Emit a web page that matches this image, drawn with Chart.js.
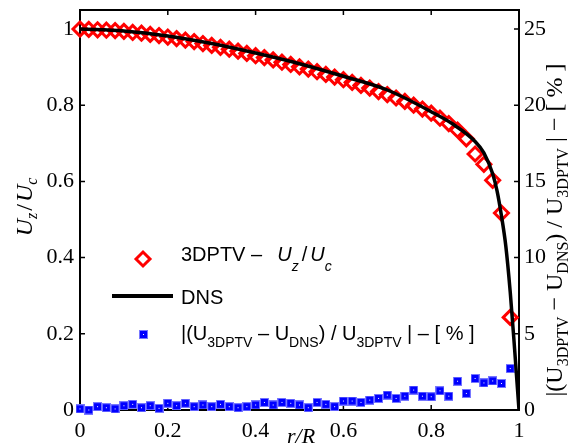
<!DOCTYPE html>
<html>
<head>
<meta charset="utf-8">
<script src="https://cdn.jsdelivr.net/npm/chart.js@4.4.0/dist/chart.umd.min.js"></script>
<style>
  body { margin: 0; background: #fff; }
  canvas { display: block; }
</style>
</head>
<body>
<canvas id="graphique" width="573" height="446"></canvas>
<script>
// radial positions of the 3DPTV bins (r/R)
const rPos = [0, 0.02, 0.04, 0.06, 0.08, 0.10, 0.12, 0.14, 0.16, 0.18,
              0.20, 0.22, 0.24, 0.26, 0.28, 0.30, 0.32, 0.34, 0.36, 0.38,
              0.40, 0.42, 0.44, 0.46, 0.48, 0.50, 0.52, 0.54, 0.56, 0.58,
              0.60, 0.62, 0.64, 0.66, 0.68, 0.70, 0.72, 0.74, 0.76, 0.78,
              0.80, 0.82, 0.84, 0.86, 0.88, 0.90, 0.92, 0.94, 0.96, 0.98];

// 3DPTV - Uz/Uc
const ptvU = [1.000, 0.999, 0.998, 0.997, 0.996, 0.994, 0.991, 0.989, 0.986, 0.983,
              0.979, 0.975, 0.971, 0.967, 0.962, 0.957, 0.952, 0.947, 0.942, 0.936,
              0.930, 0.925, 0.919, 0.913, 0.907, 0.901, 0.895, 0.888, 0.881, 0.874,
              0.867, 0.860, 0.852, 0.845, 0.836, 0.828, 0.819, 0.810, 0.800, 0.790,
              0.779, 0.766, 0.752, 0.735, 0.712, 0.672, 0.645, 0.603, 0.517, 0.243];

// |(U3DPTV - UDNS) / U3DPTV| in %
const errPct = [0.07, 0.00, 0.22, 0.15, 0.07, 0.28, 0.37, 0.15, 0.28, 0.11,
                0.44, 0.28, 0.44, 0.22, 0.33, 0.22, 0.37, 0.22, 0.15, 0.22,
                0.33, 0.50, 0.33, 0.50, 0.44, 0.33, 0.15, 0.50, 0.37, 0.22,
                0.59, 0.59, 0.50, 0.65, 0.76, 0.98, 0.76, 0.91, 1.31, 0.91,
                0.87, 1.26, 0.91, 1.89, 1.09, 2.07, 1.78, 1.91, 1.74, 2.72];

// DNS profile
const dnsR = [0, 0.1, 0.2, 0.3, 0.4, 0.5, 0.6, 0.7, 0.8, 0.85, 0.9, 0.92, 0.94, 0.95, 0.96, 0.97, 0.98, 0.99, 1.0];
const dnsU = [1.0, 0.995, 0.982, 0.962, 0.937, 0.909, 0.876, 0.84, 0.783, 0.75, 0.705, 0.675, 0.62, 0.575, 0.51, 0.43, 0.31, 0.16, 0];

const xTicks = [0, 0.2, 0.4, 0.6, 0.8, 1];
const yTicks = [0, 0.2, 0.4, 0.6, 0.8, 1];
const y1Ticks = [0, 5, 10, 15, 20, 25];

const serif = "'Liberation Serif', 'Times New Roman', serif";
const sans = "'Liberation Sans', Arial, sans-serif";

// square marker, blue with a light edge and a white centre dot
const carre = document.createElement('canvas');
carre.width = 9; carre.height = 9;
(function () {
    const c = carre.getContext('2d');
    c.fillStyle = 'rgb(120,120,255)';
    c.fillRect(0, 0, 9, 9);
    c.fillStyle = 'rgb(0,0,255)';
    c.fillRect(1, 1, 7, 7);
    c.fillStyle = '#fff';
    c.fillRect(4, 4, 1, 1);
})();

// draw a run of text pieces (for subscripts)
function texteRiche(ctx, morceaux, x, y) {
    let cx = x;
    morceaux.forEach(m => {
        ctx.font = m.f;
        ctx.fillText(m.t, cx, y + (m.dy || 0));
        cx += ctx.measureText(m.t).width + (m.gap || 0);
    });
    return cx - x;
}
function largeurRiche(ctx, morceaux) {
    let w = 0;
    morceaux.forEach(m => { ctx.font = m.f; w += ctx.measureText(m.t).width + (m.gap || 0); });
    return w;
}

const decor = {
    id: 'decor',
    beforeDatasetsDraw(chart) {
        const ctx = chart.ctx;
        const a = chart.chartArea;
        const sx = chart.scales.x, sy = chart.scales.y, sy1 = chart.scales.y1;
        ctx.save();
        ctx.strokeStyle = '#000';
        ctx.lineWidth = 2;
        ctx.strokeRect(a.left, a.top, a.right - a.left, a.bottom - a.top);
        ctx.lineWidth = 1.5;
        ctx.beginPath();
        xTicks.forEach(v => {
            const px = sx.getPixelForValue(v);
            ctx.moveTo(px, a.bottom); ctx.lineTo(px, a.bottom - 5);
            ctx.moveTo(px, a.top); ctx.lineTo(px, a.top + 5);
        });
        yTicks.forEach(v => {
            const py = sy.getPixelForValue(v);
            ctx.moveTo(a.left, py); ctx.lineTo(a.left + 5, py);
        });
        y1Ticks.forEach(v => {
            const py = sy1.getPixelForValue(v);
            ctx.moveTo(a.right, py); ctx.lineTo(a.right - 5, py);
        });
        ctx.stroke();
        ctx.restore();
    },
    afterDraw(chart) {
        const ctx = chart.ctx;
        ctx.save();
        ctx.fillStyle = '#000';
        ctx.textBaseline = 'alphabetic';
        ctx.textAlign = 'left';

        // x title
        ctx.font = 'italic 22px ' + serif;
        ctx.fillText('r/R', 287, 443);

        // left title
        const gauche = [
            { t: 'U', f: 'italic 24px ' + serif },
            { t: 'z', f: 'italic 16px ' + serif, dy: 5, gap: 2 },
            { t: '/', f: '24px ' + serif, gap: 2 },
            { t: 'U', f: 'italic 24px ' + serif },
            { t: 'c', f: 'italic 16px ' + serif, dy: 5 }
        ];
        ctx.save();
        ctx.translate(32, 207);
        ctx.rotate(-Math.PI / 2);
        texteRiche(ctx, gauche, -largeurRiche(ctx, gauche) / 2, 0);
        ctx.restore();

        // right title
        const droite = [
            { t: '|(U', f: '24px ' + serif },
            { t: '3DPTV', f: '16px ' + serif, dy: 6 },
            { t: ' \u2212 U', f: '24px ' + serif },
            { t: 'DNS', f: '16px ' + serif, dy: 6 },
            { t: ') / U', f: '24px ' + serif },
            { t: '3DPTV', f: '16px ' + serif, dy: 6 },
            { t: ' | \u2212 [ % ]', f: '24px ' + serif }
        ];
        ctx.save();
        ctx.translate(562, 230);
        ctx.rotate(-Math.PI / 2);
        texteRiche(ctx, droite, -largeurRiche(ctx, droite) / 2, 0);
        ctx.restore();

        // legend
        ctx.strokeStyle = 'rgb(255,0,0)';
        ctx.lineWidth = 3;
        ctx.beginPath();
        ctx.moveTo(136, 259); ctx.lineTo(143, 252); ctx.lineTo(150, 259); ctx.lineTo(143, 266);
        ctx.closePath();
        ctx.stroke();
        texteRiche(ctx, [
            { t: '3DPTV \u2013  ', f: '20px ' + sans, gap: 4 },
            { t: 'U', f: 'italic 20px ' + sans },
            { t: 'z', f: 'italic 14px ' + sans, dy: 10, gap: 3 },
            { t: '/', f: '20px ' + sans, gap: 3 },
            { t: 'U', f: 'italic 20px ' + sans },
            { t: 'c', f: 'italic 14px ' + sans, dy: 10 }
        ], 181, 261);

        ctx.strokeStyle = '#000';
        ctx.lineWidth = 4;
        ctx.beginPath();
        ctx.moveTo(112, 296); ctx.lineTo(173, 296);
        ctx.stroke();
        ctx.font = '20px ' + sans;
        ctx.fillText('DNS', 181, 304);

        ctx.drawImage(carre, 139, 330);
        texteRiche(ctx, [
            { t: '|(U', f: '20px ' + sans },
            { t: '3DPTV', f: '14px ' + sans, dy: 7 },
            { t: ' \u2013 U', f: '20px ' + sans, gap: 0 },
            { t: 'DNS', f: '14px ' + sans, dy: 7 },
            { t: ') / U', f: '20px ' + sans },
            { t: '3DPTV', f: '14px ' + sans, dy: 7 },
            { t: ' | \u2013 [ % ]', f: '20px ' + sans }
        ], 181, 340);
        ctx.restore();
    }
};

const ctx = document.getElementById('graphique').getContext('2d');
const graphique = new Chart(ctx, {
    type: 'scatter',
    data: {
        datasets: [{
            type: 'line',
            label: 'DNS',
            data: dnsR.map((r, i) => ({ x: r, y: dnsU[i] })),
            borderColor: '#000',
            borderWidth: 3.5,
            pointRadius: 0,
            cubicInterpolationMode: 'monotone',
            yAxisID: 'y',
            order: 0
        }, {
            label: '3DPTV - Uz/Uc',
            data: rPos.map((r, i) => ({ x: r, y: ptvU[i] })),
            pointStyle: 'rectRot',
            pointRadius: 7,
            borderColor: 'rgb(255,0,0)',
            backgroundColor: 'rgba(0,0,0,0)',
            borderWidth: 3,
            yAxisID: 'y',
            clip: false,
            order: 1
        }, {
            label: 'erreur',
            data: rPos.map((r, i) => ({ x: r, y: errPct[i] })),
            pointStyle: carre,
            pointRadius: 5,
            yAxisID: 'y1',
            clip: false,
            order: 2
        }]
    },
    options: {
        responsive: false,
        animation: false,
        devicePixelRatio: 1,
        layout: { padding: { top: 8, bottom: 0, left: 0, right: 0 } },
        plugins: { legend: { display: false }, tooltip: { enabled: false } },
        scales: {
            x: {
                type: 'linear', min: 0, max: 1,
                grid: { display: false, drawTicks: false },
                border: { display: false },
                afterBuildTicks: s => { s.ticks = xTicks.map(v => ({ value: v })); },
                afterFit: s => { s.height = 36; s.paddingLeft = 0; s.paddingRight = 0; },
                ticks: {
                    padding: 8, color: '#000', maxRotation: 0, autoSkip: false,
                    font: { family: serif, size: 22 },
                    callback: v => String(+v.toFixed(1))
                }
            },
            y: {
                type: 'linear', position: 'left', min: 0, max: 1.05,
                grid: { display: false, drawTicks: false },
                border: { display: false },
                afterBuildTicks: s => { s.ticks = yTicks.map(v => ({ value: v })); },
                afterFit: s => { s.width = 80; s.paddingTop = 0; s.paddingBottom = 0; },
                ticks: {
                    padding: 6, color: '#000', autoSkip: false,
                    font: { family: serif, size: 22 },
                    callback: v => String(+v.toFixed(1))
                }
            },
            y1: {
                type: 'linear', position: 'right', min: 0, max: 26.25,
                grid: { display: false, drawTicks: false },
                border: { display: false },
                afterBuildTicks: s => { s.ticks = y1Ticks.map(v => ({ value: v })); },
                afterFit: s => { s.width = 54; s.paddingTop = 0; s.paddingBottom = 0; },
                ticks: {
                    padding: 5, color: '#000', autoSkip: false,
                    font: { family: serif, size: 22 },
                    callback: v => String(v)
                }
            }
        }
    },
    plugins: [decor]
});
</script>
</body>
</html>
